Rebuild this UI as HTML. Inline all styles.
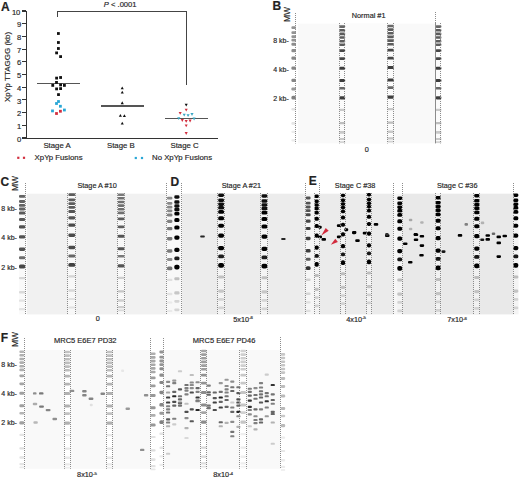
<!DOCTYPE html><html><head><meta charset="utf-8"><style>
html,body{margin:0;padding:0;background:#fff;width:520px;height:479px;overflow:hidden;}
body{position:relative;font-family:"Liberation Sans",sans-serif;}
div{position:absolute;}
.t{position:absolute;white-space:nowrap;line-height:1;-webkit-text-stroke:0.18px #333;}
sup{font-size:0.6em;vertical-align:0;position:relative;top:-0.55em;}
</style></head><body>
<div style="left:25.60px;top:11.00px;width:1.30px;height:127.70px;background:#333;"></div>
<div style="left:25.60px;top:138.00px;width:192.70px;height:1.00px;background:#333;"></div>
<div style="left:22.30px;top:137.40px;width:3.70px;height:1.20px;background:#333;"></div>
<div style="left:22.30px;top:124.70px;width:3.70px;height:1.20px;background:#333;"></div>
<div style="left:22.30px;top:112.00px;width:3.70px;height:1.20px;background:#333;"></div>
<div style="left:22.30px;top:99.30px;width:3.70px;height:1.20px;background:#333;"></div>
<div style="left:22.30px;top:86.60px;width:3.70px;height:1.20px;background:#333;"></div>
<div style="left:22.30px;top:73.90px;width:3.70px;height:1.20px;background:#333;"></div>
<div style="left:22.30px;top:61.20px;width:3.70px;height:1.20px;background:#333;"></div>
<div style="left:22.30px;top:48.50px;width:3.70px;height:1.20px;background:#333;"></div>
<div style="left:22.30px;top:35.80px;width:3.70px;height:1.20px;background:#333;"></div>
<div style="left:22.30px;top:23.10px;width:3.70px;height:1.20px;background:#333;"></div>
<div style="left:22.30px;top:10.40px;width:3.70px;height:1.20px;background:#333;"></div>
<div style="left:57.00px;top:11.00px;width:130.30px;height:1.40px;background:#444;"></div>
<div style="left:57.00px;top:11.00px;width:1.30px;height:5.90px;background:#444;"></div>
<div style="left:186.00px;top:11.00px;width:1.30px;height:73.60px;background:#444;"></div>
<div style="left:37.00px;top:83.10px;width:43.00px;height:1.40px;background:#555;"></div>
<div style="left:100.90px;top:105.30px;width:42.90px;height:1.40px;background:#555;"></div>
<div style="left:164.80px;top:117.70px;width:43.00px;height:1.40px;background:#555;"></div>
<svg style="position:absolute;left:0;top:0" width="260" height="170" viewBox="0 0 260 170"><rect x="57.00" y="32.10" width="2.8" height="2.8" fill="#111"/><rect x="57.00" y="41.10" width="2.8" height="2.8" fill="#111"/><rect x="57.00" y="47.10" width="2.8" height="2.8" fill="#111"/><rect x="55.20" y="51.50" width="2.8" height="2.8" fill="#111"/><rect x="59.20" y="55.20" width="2.8" height="2.8" fill="#111"/><rect x="55.20" y="76.70" width="2.8" height="2.8" fill="#111"/><rect x="59.20" y="76.10" width="2.8" height="2.8" fill="#111"/><rect x="55.10" y="81.00" width="2.8" height="2.8" fill="#111"/><rect x="51.35" y="84.00" width="2.8" height="2.8" fill="#111"/><rect x="59.20" y="83.50" width="2.8" height="2.8" fill="#111"/><rect x="63.00" y="84.00" width="2.8" height="2.8" fill="#111"/><rect x="55.20" y="87.50" width="2.8" height="2.8" fill="#111"/><rect x="59.20" y="87.20" width="2.8" height="2.8" fill="#111"/><rect x="57.10" y="93.20" width="2.8" height="2.8" fill="#111"/><rect x="57.10" y="100.10" width="2.8" height="2.8" fill="#2aa7d6"/><rect x="55.10" y="102.10" width="2.8" height="2.8" fill="#2aa7d6"/><rect x="59.00" y="104.85" width="2.8" height="2.8" fill="#2aa7d6"/><rect x="51.10" y="109.50" width="2.8" height="2.8" fill="#2aa7d6"/><rect x="63.00" y="108.60" width="2.8" height="2.8" fill="#2aa7d6"/><rect x="55.10" y="112.10" width="2.8" height="2.8" fill="#d22f3f"/><rect x="59.00" y="109.85" width="2.8" height="2.8" fill="#d22f3f"/><polygon points="120.70,89.30 123.80,89.30 122.25,86.51" fill="#111"/><polygon points="120.70,93.49 123.80,93.49 122.25,90.70" fill="#111"/><polygon points="120.70,104.14 123.80,104.14 122.25,101.36" fill="#111"/><polygon points="118.85,116.80 121.95,116.80 120.40,114.01" fill="#111"/><polygon points="122.85,116.99 125.95,116.99 124.40,114.20" fill="#111"/><polygon points="120.70,124.49 123.80,124.49 122.25,121.70" fill="#111"/><polygon points="184.65,103.70 187.75,103.70 186.20,106.49" fill="#111"/><polygon points="184.65,108.70 187.75,108.70 186.20,111.49" fill="#d22f3f"/><polygon points="178.65,111.91 181.75,111.91 180.20,114.69" fill="#d22f3f"/><polygon points="180.75,119.11 183.85,119.11 182.30,121.89" fill="#d22f3f"/><polygon points="184.65,120.01 187.75,120.01 186.20,122.80" fill="#d22f3f"/><polygon points="188.55,119.61 191.65,119.61 190.10,122.39" fill="#d22f3f"/><polygon points="184.65,124.41 187.75,124.41 186.20,127.19" fill="#d22f3f"/><polygon points="184.65,132.10 187.75,132.10 186.20,134.90" fill="#d22f3f"/><polygon points="182.65,113.81 185.75,113.81 184.20,116.59" fill="#3aa6c4"/><polygon points="186.55,114.31 189.65,114.31 188.10,117.09" fill="#3aa6c4"/><polygon points="190.45,113.11 193.55,113.11 192.00,115.89" fill="#3aa6c4"/><polygon points="177.20,117.20 180.30,117.20 178.75,119.99" fill="#3aa6c4"/><polygon points="192.55,117.61 195.65,117.61 194.10,120.39" fill="#3aa6c4"/><rect x="17.20" y="156.70" width="2.2" height="2.2" fill="#d22f3f"/><rect x="22.90" y="156.70" width="2.2" height="2.2" fill="#d22f3f"/><rect x="134.70" y="156.90" width="2.2" height="2.2" fill="#2aa7d6"/><rect x="140.90" y="156.90" width="2.2" height="2.2" fill="#2aa7d6"/></svg>
<svg style="position:absolute;left:0;top:0" width="520" height="479" viewBox="0 0 520 479"><defs><filter id="bl" x="-20%" y="-20%" width="140%" height="140%"><feGaussianBlur stdDeviation="0.5"/></filter></defs><rect x="298.00" y="23.60" width="143.00" height="119.80" fill="#f9f9f9"/><rect x="345.00" y="23.60" width="42.50" height="119.80" fill="#fbfbfb"/><rect x="339.40" y="23.60" width="5.80" height="119.80" fill="#fbfbfb"/><rect x="387.40" y="23.60" width="6.40" height="119.80" fill="#fbfbfb"/><rect x="435.60" y="23.60" width="5.80" height="119.80" fill="#fbfbfb"/><rect x="26.80" y="193.70" width="139.20" height="120.70" fill="#f1f1f1"/><rect x="19.00" y="193.70" width="6.50" height="120.70" fill="#fafafa"/><rect x="67.90" y="193.70" width="7.80" height="120.70" fill="#f8f8f8"/><rect x="117.30" y="193.70" width="7.60" height="120.70" fill="#f8f8f8"/><rect x="166.30" y="193.70" width="15.20" height="120.70" fill="#f8f8f8"/><rect x="182.00" y="193.70" width="121.50" height="120.70" fill="#ececec"/><rect x="217.70" y="193.70" width="6.80" height="120.70" fill="#f4f4f4"/><rect x="261.00" y="193.70" width="6.80" height="120.70" fill="#f4f4f4"/><rect x="303.50" y="193.70" width="2.50" height="120.70" fill="#ececec"/><rect x="305.50" y="193.70" width="8.50" height="120.70" fill="#f6f6f6"/><rect x="319.50" y="193.70" width="73.50" height="120.70" fill="#ebebeb"/><rect x="314.20" y="193.70" width="5.00" height="120.70" fill="#f3f3f3"/><rect x="340.60" y="193.70" width="4.80" height="120.70" fill="#f3f3f3"/><rect x="366.60" y="193.70" width="4.80" height="120.70" fill="#f3f3f3"/><rect x="393.00" y="193.70" width="4.00" height="120.70" fill="#f6f6f6"/><rect x="397.00" y="193.70" width="5.50" height="120.70" fill="#f3f3f3"/><rect x="402.50" y="193.70" width="111.00" height="120.70" fill="#e9e9e9"/><rect x="435.10" y="193.70" width="6.20" height="120.70" fill="#f1f1f1"/><rect x="473.70" y="193.70" width="6.20" height="120.70" fill="#f1f1f1"/><rect x="513.00" y="193.70" width="5.50" height="120.70" fill="#f4f4f4"/><rect x="25.00" y="350.00" width="125.00" height="118.80" fill="#f9f9f9"/><rect x="64.20" y="350.00" width="5.80" height="118.80" fill="#ffffff"/><rect x="106.60" y="350.00" width="6.00" height="118.80" fill="#ffffff"/><rect x="150.00" y="350.00" width="6.00" height="118.80" fill="#ffffff"/><rect x="164.00" y="350.00" width="117.00" height="118.80" fill="#f9f9f9"/><rect x="200.60" y="350.00" width="6.40" height="118.80" fill="#ffffff"/><rect x="239.80" y="350.00" width="6.70" height="118.80" fill="#ffffff"/><rect x="280.60" y="350.00" width="5.40" height="118.80" fill="#ffffff"/><g filter="url(#bl)"><rect x="291.40" y="26.20" width="4.60" height="2.80" rx="1.12" fill="rgb(147,147,147)"/><rect x="291.40" y="31.30" width="4.60" height="2.80" rx="1.12" fill="rgb(147,147,147)"/><rect x="291.40" y="35.20" width="4.60" height="2.80" rx="1.12" fill="rgb(147,147,147)"/><rect x="291.40" y="38.80" width="4.60" height="2.80" rx="1.12" fill="rgb(147,147,147)"/><rect x="291.40" y="42.80" width="4.60" height="3.00" rx="1.20" fill="rgb(140,140,140)"/><rect x="291.40" y="49.10" width="4.60" height="3.20" rx="1.28" fill="rgb(140,140,140)"/><rect x="291.40" y="56.50" width="4.60" height="3.20" rx="1.28" fill="rgb(134,134,134)"/><rect x="291.40" y="66.40" width="4.60" height="3.40" rx="1.36" fill="rgb(134,134,134)"/><rect x="291.40" y="78.70" width="4.60" height="3.40" rx="1.36" fill="rgb(134,134,134)"/><rect x="291.40" y="87.40" width="4.60" height="3.00" rx="1.20" fill="rgb(153,153,153)"/><rect x="291.40" y="95.80" width="4.60" height="3.80" rx="1.52" fill="rgb(128,128,128)"/><rect x="291.40" y="108.10" width="4.60" height="2.40" rx="0.96" fill="rgb(227,227,227)"/><rect x="291.40" y="122.10" width="4.60" height="2.60" rx="1.04" fill="rgb(230,230,230)"/><rect x="291.40" y="130.80" width="4.60" height="2.20" rx="0.88" fill="rgb(236,236,236)"/><rect x="291.40" y="139.30" width="4.60" height="2.20" rx="0.88" fill="rgb(236,236,236)"/><rect x="339.40" y="25.30" width="5.80" height="2.60" rx="1.04" fill="rgb(103,103,103)"/><rect x="339.40" y="28.90" width="5.80" height="2.60" rx="1.04" fill="rgb(92,92,92)"/><rect x="339.40" y="32.60" width="5.80" height="2.60" rx="1.04" fill="rgb(92,92,92)"/><rect x="339.40" y="36.20" width="5.80" height="2.60" rx="1.04" fill="rgb(92,92,92)"/><rect x="339.40" y="39.90" width="5.80" height="2.60" rx="1.04" fill="rgb(92,92,92)"/><rect x="339.40" y="43.50" width="5.80" height="2.60" rx="1.04" fill="rgb(92,92,92)"/><rect x="339.40" y="49.30" width="5.80" height="2.80" rx="1.12" fill="rgb(71,71,71)"/><rect x="339.40" y="57.30" width="5.80" height="2.80" rx="1.12" fill="rgb(71,71,71)"/><rect x="339.40" y="66.70" width="5.80" height="3.00" rx="1.20" fill="rgb(60,60,60)"/><rect x="339.40" y="79.10" width="5.80" height="3.00" rx="1.20" fill="rgb(60,60,60)"/><rect x="339.40" y="86.90" width="5.80" height="2.60" rx="1.04" fill="rgb(103,103,103)"/><rect x="339.40" y="96.20" width="5.80" height="3.20" rx="1.28" fill="rgb(60,60,60)"/><rect x="339.40" y="108.70" width="5.80" height="2.20" rx="0.88" fill="rgb(201,201,201)"/><rect x="339.40" y="122.10" width="5.80" height="2.20" rx="0.88" fill="rgb(190,190,190)"/><rect x="339.40" y="131.10" width="5.80" height="2.60" rx="1.04" fill="rgb(201,201,201)"/><rect x="339.40" y="137.90" width="5.80" height="2.20" rx="0.88" fill="rgb(201,201,201)"/><rect x="339.40" y="141.30" width="5.80" height="1.80" rx="0.72" fill="rgb(212,212,212)"/><rect x="387.40" y="24.70" width="6.40" height="2.60" rx="1.04" fill="rgb(103,103,103)"/><rect x="387.40" y="28.30" width="6.40" height="2.60" rx="1.04" fill="rgb(92,92,92)"/><rect x="387.40" y="32.00" width="6.40" height="2.60" rx="1.04" fill="rgb(92,92,92)"/><rect x="387.40" y="35.60" width="6.40" height="2.60" rx="1.04" fill="rgb(92,92,92)"/><rect x="387.40" y="39.30" width="6.40" height="2.60" rx="1.04" fill="rgb(92,92,92)"/><rect x="387.40" y="42.90" width="6.40" height="2.60" rx="1.04" fill="rgb(92,92,92)"/><rect x="387.40" y="48.70" width="6.40" height="2.80" rx="1.12" fill="rgb(71,71,71)"/><rect x="387.40" y="56.70" width="6.40" height="2.80" rx="1.12" fill="rgb(71,71,71)"/><rect x="387.40" y="66.10" width="6.40" height="3.00" rx="1.20" fill="rgb(60,60,60)"/><rect x="387.40" y="78.50" width="6.40" height="3.00" rx="1.20" fill="rgb(60,60,60)"/><rect x="387.40" y="86.30" width="6.40" height="2.60" rx="1.04" fill="rgb(103,103,103)"/><rect x="387.40" y="95.60" width="6.40" height="3.20" rx="1.28" fill="rgb(60,60,60)"/><rect x="387.40" y="108.10" width="6.40" height="2.20" rx="0.88" fill="rgb(201,201,201)"/><rect x="387.40" y="121.50" width="6.40" height="2.20" rx="0.88" fill="rgb(190,190,190)"/><rect x="387.40" y="130.50" width="6.40" height="2.60" rx="1.04" fill="rgb(201,201,201)"/><rect x="387.40" y="137.30" width="6.40" height="2.20" rx="0.88" fill="rgb(201,201,201)"/><rect x="387.40" y="140.70" width="6.40" height="1.80" rx="0.72" fill="rgb(212,212,212)"/><rect x="435.60" y="25.30" width="5.80" height="2.60" rx="1.04" fill="rgb(103,103,103)"/><rect x="435.60" y="28.90" width="5.80" height="2.60" rx="1.04" fill="rgb(92,92,92)"/><rect x="435.60" y="32.60" width="5.80" height="2.60" rx="1.04" fill="rgb(92,92,92)"/><rect x="435.60" y="36.20" width="5.80" height="2.60" rx="1.04" fill="rgb(92,92,92)"/><rect x="435.60" y="39.90" width="5.80" height="2.60" rx="1.04" fill="rgb(92,92,92)"/><rect x="435.60" y="43.50" width="5.80" height="2.60" rx="1.04" fill="rgb(92,92,92)"/><rect x="435.60" y="49.30" width="5.80" height="2.80" rx="1.12" fill="rgb(71,71,71)"/><rect x="435.60" y="57.30" width="5.80" height="2.80" rx="1.12" fill="rgb(71,71,71)"/><rect x="435.60" y="66.70" width="5.80" height="3.00" rx="1.20" fill="rgb(60,60,60)"/><rect x="435.60" y="79.10" width="5.80" height="3.00" rx="1.20" fill="rgb(60,60,60)"/><rect x="435.60" y="86.90" width="5.80" height="2.60" rx="1.04" fill="rgb(103,103,103)"/><rect x="435.60" y="96.20" width="5.80" height="3.20" rx="1.28" fill="rgb(60,60,60)"/><rect x="435.60" y="108.70" width="5.80" height="2.20" rx="0.88" fill="rgb(201,201,201)"/><rect x="435.60" y="122.10" width="5.80" height="2.20" rx="0.88" fill="rgb(190,190,190)"/><rect x="435.60" y="131.10" width="5.80" height="2.60" rx="1.04" fill="rgb(201,201,201)"/><rect x="435.60" y="137.90" width="5.80" height="2.20" rx="0.88" fill="rgb(201,201,201)"/><rect x="435.60" y="141.30" width="5.80" height="1.80" rx="0.72" fill="rgb(212,212,212)"/><rect x="19.00" y="195.00" width="6.20" height="2.80" rx="1.12" fill="rgb(99,99,99)"/><rect x="19.00" y="200.10" width="6.20" height="2.80" rx="1.12" fill="rgb(99,99,99)"/><rect x="19.00" y="204.00" width="6.20" height="2.80" rx="1.12" fill="rgb(99,99,99)"/><rect x="19.00" y="207.60" width="6.20" height="2.80" rx="1.12" fill="rgb(99,99,99)"/><rect x="19.00" y="211.60" width="6.20" height="3.00" rx="1.20" fill="rgb(90,90,90)"/><rect x="19.00" y="217.90" width="6.20" height="3.20" rx="1.28" fill="rgb(90,90,90)"/><rect x="19.00" y="225.30" width="6.20" height="3.20" rx="1.28" fill="rgb(81,81,81)"/><rect x="19.00" y="235.20" width="6.20" height="3.40" rx="1.36" fill="rgb(81,81,81)"/><rect x="19.00" y="247.50" width="6.20" height="3.40" rx="1.36" fill="rgb(81,81,81)"/><rect x="19.00" y="256.20" width="6.20" height="3.00" rx="1.20" fill="rgb(108,108,108)"/><rect x="19.00" y="264.60" width="6.20" height="3.80" rx="1.52" fill="rgb(71,71,71)"/><rect x="19.00" y="276.90" width="6.20" height="2.40" rx="0.96" fill="rgb(215,215,215)"/><rect x="19.00" y="290.90" width="6.20" height="2.60" rx="1.04" fill="rgb(218,218,218)"/><rect x="19.00" y="299.60" width="6.20" height="2.20" rx="0.88" fill="rgb(227,227,227)"/><rect x="19.00" y="308.10" width="6.20" height="2.20" rx="0.88" fill="rgb(227,227,227)"/><rect x="68.40" y="193.30" width="6.80" height="2.80" rx="1.12" fill="rgb(92,92,92)"/><rect x="68.40" y="198.40" width="6.80" height="2.80" rx="1.12" fill="rgb(92,92,92)"/><rect x="68.40" y="202.30" width="6.80" height="2.80" rx="1.12" fill="rgb(92,92,92)"/><rect x="68.40" y="205.90" width="6.80" height="2.80" rx="1.12" fill="rgb(92,92,92)"/><rect x="68.40" y="209.90" width="6.80" height="3.00" rx="1.20" fill="rgb(83,83,83)"/><rect x="68.40" y="216.20" width="6.80" height="3.20" rx="1.28" fill="rgb(83,83,83)"/><rect x="68.40" y="223.60" width="6.80" height="3.20" rx="1.28" fill="rgb(73,73,73)"/><rect x="68.40" y="233.50" width="6.80" height="3.40" rx="1.36" fill="rgb(73,73,73)"/><rect x="68.40" y="245.80" width="6.80" height="3.40" rx="1.36" fill="rgb(73,73,73)"/><rect x="68.40" y="254.50" width="6.80" height="3.00" rx="1.20" fill="rgb(102,102,102)"/><rect x="68.40" y="262.90" width="6.80" height="3.80" rx="1.52" fill="rgb(64,64,64)"/><rect x="68.40" y="275.20" width="6.80" height="2.40" rx="0.96" fill="rgb(213,213,213)"/><rect x="68.40" y="289.20" width="6.80" height="2.60" rx="1.04" fill="rgb(217,217,217)"/><rect x="68.40" y="297.90" width="6.80" height="2.20" rx="0.88" fill="rgb(226,226,226)"/><rect x="68.40" y="306.40" width="6.80" height="2.20" rx="0.88" fill="rgb(226,226,226)"/><rect x="117.80" y="193.40" width="6.60" height="2.60" rx="1.04" fill="rgb(121,121,121)"/><rect x="117.80" y="197.00" width="6.60" height="2.60" rx="1.04" fill="rgb(112,112,112)"/><rect x="117.80" y="200.70" width="6.60" height="2.60" rx="1.04" fill="rgb(112,112,112)"/><rect x="117.80" y="204.30" width="6.60" height="2.60" rx="1.04" fill="rgb(112,112,112)"/><rect x="117.80" y="208.00" width="6.60" height="2.60" rx="1.04" fill="rgb(112,112,112)"/><rect x="117.80" y="211.60" width="6.60" height="2.60" rx="1.04" fill="rgb(112,112,112)"/><rect x="117.80" y="217.40" width="6.60" height="2.80" rx="1.12" fill="rgb(92,92,92)"/><rect x="117.80" y="225.40" width="6.60" height="2.80" rx="1.12" fill="rgb(92,92,92)"/><rect x="117.80" y="234.80" width="6.60" height="3.00" rx="1.20" fill="rgb(83,83,83)"/><rect x="117.80" y="247.20" width="6.60" height="3.00" rx="1.20" fill="rgb(83,83,83)"/><rect x="117.80" y="255.00" width="6.60" height="2.60" rx="1.04" fill="rgb(121,121,121)"/><rect x="117.80" y="264.30" width="6.60" height="3.20" rx="1.28" fill="rgb(83,83,83)"/><rect x="117.80" y="276.80" width="6.60" height="2.20" rx="0.88" fill="rgb(207,207,207)"/><rect x="117.80" y="290.20" width="6.60" height="2.20" rx="0.88" fill="rgb(198,198,198)"/><rect x="117.80" y="299.20" width="6.60" height="2.60" rx="1.04" fill="rgb(207,207,207)"/><rect x="117.80" y="306.00" width="6.60" height="2.20" rx="0.88" fill="rgb(207,207,207)"/><rect x="117.80" y="309.40" width="6.60" height="1.80" rx="0.72" fill="rgb(217,217,217)"/><rect x="167.00" y="196.80" width="5.40" height="2.80" rx="1.12" fill="rgb(136,136,136)"/><rect x="167.00" y="201.90" width="5.40" height="2.80" rx="1.12" fill="rgb(136,136,136)"/><rect x="167.00" y="205.80" width="5.40" height="2.80" rx="1.12" fill="rgb(136,136,136)"/><rect x="167.00" y="209.40" width="5.40" height="2.80" rx="1.12" fill="rgb(136,136,136)"/><rect x="167.00" y="213.40" width="5.40" height="3.00" rx="1.20" fill="rgb(129,129,129)"/><rect x="167.00" y="219.70" width="5.40" height="3.20" rx="1.28" fill="rgb(129,129,129)"/><rect x="167.00" y="227.10" width="5.40" height="3.20" rx="1.28" fill="rgb(122,122,122)"/><rect x="167.00" y="237.00" width="5.40" height="3.40" rx="1.36" fill="rgb(122,122,122)"/><rect x="167.00" y="249.30" width="5.40" height="3.40" rx="1.36" fill="rgb(122,122,122)"/><rect x="167.00" y="258.00" width="5.40" height="3.00" rx="1.20" fill="rgb(143,143,143)"/><rect x="167.00" y="266.40" width="5.40" height="3.80" rx="1.52" fill="rgb(115,115,115)"/><rect x="167.00" y="278.70" width="5.40" height="2.40" rx="0.96" fill="rgb(224,224,224)"/><rect x="167.00" y="292.70" width="5.40" height="2.60" rx="1.04" fill="rgb(227,227,227)"/><rect x="167.00" y="301.40" width="5.40" height="2.20" rx="0.88" fill="rgb(234,234,234)"/><rect x="167.00" y="309.90" width="5.40" height="2.20" rx="0.88" fill="rgb(234,234,234)"/><rect x="174.30" y="195.25" width="5.20" height="3.50" rx="1.40" fill="rgb(17,17,17)"/><rect x="174.30" y="200.35" width="5.20" height="3.50" rx="1.40" fill="rgb(17,17,17)"/><rect x="174.30" y="204.25" width="5.20" height="3.50" rx="1.40" fill="rgb(17,17,17)"/><rect x="174.30" y="207.85" width="5.20" height="3.50" rx="1.40" fill="rgb(17,17,17)"/><rect x="174.30" y="211.82" width="5.20" height="3.75" rx="1.50" fill="rgb(3,3,3)"/><rect x="174.30" y="218.10" width="5.20" height="4.00" rx="1.60" fill="rgb(3,3,3)"/><rect x="174.30" y="225.50" width="5.20" height="4.00" rx="1.60" fill="rgb(0,0,0)"/><rect x="174.30" y="235.38" width="5.20" height="4.25" rx="1.70" fill="rgb(0,0,0)"/><rect x="174.30" y="247.68" width="5.20" height="4.25" rx="1.70" fill="rgb(0,0,0)"/><rect x="174.30" y="256.43" width="5.20" height="3.75" rx="1.50" fill="rgb(31,31,31)"/><rect x="174.30" y="264.72" width="5.20" height="4.75" rx="1.90" fill="rgb(0,0,0)"/><rect x="174.30" y="277.20" width="5.20" height="3.00" rx="1.20" fill="rgb(193,193,193)"/><rect x="174.30" y="291.18" width="5.20" height="3.25" rx="1.30" fill="rgb(199,199,199)"/><rect x="174.30" y="299.93" width="5.20" height="2.75" rx="1.10" fill="rgb(213,213,213)"/><rect x="174.30" y="308.43" width="5.20" height="2.75" rx="1.10" fill="rgb(213,213,213)"/><rect x="218.20" y="193.45" width="5.80" height="3.50" rx="1.40" fill="rgb(17,17,17)"/><rect x="218.20" y="198.55" width="5.80" height="3.50" rx="1.40" fill="rgb(17,17,17)"/><rect x="218.20" y="202.45" width="5.80" height="3.50" rx="1.40" fill="rgb(17,17,17)"/><rect x="218.20" y="206.05" width="5.80" height="3.50" rx="1.40" fill="rgb(17,17,17)"/><rect x="218.20" y="210.02" width="5.80" height="3.75" rx="1.50" fill="rgb(3,3,3)"/><rect x="218.20" y="216.30" width="5.80" height="4.00" rx="1.60" fill="rgb(3,3,3)"/><rect x="218.20" y="223.70" width="5.80" height="4.00" rx="1.60" fill="rgb(0,0,0)"/><rect x="218.20" y="233.57" width="5.80" height="4.25" rx="1.70" fill="rgb(0,0,0)"/><rect x="218.20" y="245.88" width="5.80" height="4.25" rx="1.70" fill="rgb(0,0,0)"/><rect x="218.20" y="254.62" width="5.80" height="3.75" rx="1.50" fill="rgb(31,31,31)"/><rect x="218.20" y="262.92" width="5.80" height="4.75" rx="1.90" fill="rgb(0,0,0)"/><rect x="218.20" y="275.40" width="5.80" height="3.00" rx="1.20" fill="rgb(193,193,193)"/><rect x="218.20" y="289.38" width="5.80" height="3.25" rx="1.30" fill="rgb(199,199,199)"/><rect x="218.20" y="298.12" width="5.80" height="2.75" rx="1.10" fill="rgb(213,213,213)"/><rect x="218.20" y="306.62" width="5.80" height="2.75" rx="1.10" fill="rgb(213,213,213)"/><rect x="261.50" y="194.25" width="5.80" height="3.50" rx="1.40" fill="rgb(17,17,17)"/><rect x="261.50" y="199.35" width="5.80" height="3.50" rx="1.40" fill="rgb(17,17,17)"/><rect x="261.50" y="203.25" width="5.80" height="3.50" rx="1.40" fill="rgb(17,17,17)"/><rect x="261.50" y="206.85" width="5.80" height="3.50" rx="1.40" fill="rgb(17,17,17)"/><rect x="261.50" y="210.82" width="5.80" height="3.75" rx="1.50" fill="rgb(3,3,3)"/><rect x="261.50" y="217.10" width="5.80" height="4.00" rx="1.60" fill="rgb(3,3,3)"/><rect x="261.50" y="224.50" width="5.80" height="4.00" rx="1.60" fill="rgb(0,0,0)"/><rect x="261.50" y="234.38" width="5.80" height="4.25" rx="1.70" fill="rgb(0,0,0)"/><rect x="261.50" y="246.68" width="5.80" height="4.25" rx="1.70" fill="rgb(0,0,0)"/><rect x="261.50" y="255.43" width="5.80" height="3.75" rx="1.50" fill="rgb(31,31,31)"/><rect x="261.50" y="263.72" width="5.80" height="4.75" rx="1.90" fill="rgb(0,0,0)"/><rect x="261.50" y="276.20" width="5.80" height="3.00" rx="1.20" fill="rgb(193,193,193)"/><rect x="261.50" y="290.18" width="5.80" height="3.25" rx="1.30" fill="rgb(199,199,199)"/><rect x="261.50" y="298.93" width="5.80" height="2.75" rx="1.10" fill="rgb(213,213,213)"/><rect x="261.50" y="307.43" width="5.80" height="2.75" rx="1.10" fill="rgb(213,213,213)"/><rect x="200.20" y="235.50" width="4.60" height="2.00" rx="0.80" fill="rgb(38,38,38)"/><rect x="281.20" y="238.00" width="4.40" height="2.00" rx="0.80" fill="rgb(38,38,38)"/><rect x="305.80" y="196.60" width="4.80" height="2.80" rx="1.12" fill="rgb(82,82,82)"/><rect x="305.80" y="201.70" width="4.80" height="2.80" rx="1.12" fill="rgb(82,82,82)"/><rect x="305.80" y="205.60" width="4.80" height="2.80" rx="1.12" fill="rgb(82,82,82)"/><rect x="305.80" y="209.20" width="4.80" height="2.80" rx="1.12" fill="rgb(82,82,82)"/><rect x="305.80" y="213.20" width="4.80" height="3.00" rx="1.20" fill="rgb(71,71,71)"/><rect x="305.80" y="219.50" width="4.80" height="3.20" rx="1.28" fill="rgb(71,71,71)"/><rect x="305.80" y="226.90" width="4.80" height="3.20" rx="1.28" fill="rgb(61,61,61)"/><rect x="305.80" y="236.80" width="4.80" height="3.40" rx="1.36" fill="rgb(61,61,61)"/><rect x="305.80" y="249.10" width="4.80" height="3.40" rx="1.36" fill="rgb(61,61,61)"/><rect x="305.80" y="257.80" width="4.80" height="3.00" rx="1.20" fill="rgb(92,92,92)"/><rect x="305.80" y="266.20" width="4.80" height="3.80" rx="1.52" fill="rgb(51,51,51)"/><rect x="305.80" y="278.50" width="4.80" height="2.40" rx="0.96" fill="rgb(210,210,210)"/><rect x="305.80" y="292.50" width="4.80" height="2.60" rx="1.04" fill="rgb(214,214,214)"/><rect x="305.80" y="301.20" width="4.80" height="2.20" rx="0.88" fill="rgb(224,224,224)"/><rect x="305.80" y="309.70" width="4.80" height="2.20" rx="0.88" fill="rgb(224,224,224)"/><rect x="314.60" y="194.60" width="4.20" height="3.50" rx="1.40" fill="rgb(6,6,6)"/><rect x="314.60" y="199.55" width="4.20" height="3.50" rx="1.40" fill="rgb(6,6,6)"/><rect x="314.60" y="203.33" width="4.20" height="3.50" rx="1.40" fill="rgb(6,6,6)"/><rect x="314.60" y="206.83" width="4.20" height="3.50" rx="1.40" fill="rgb(6,6,6)"/><rect x="314.60" y="210.68" width="4.20" height="3.75" rx="1.50" fill="rgb(0,0,0)"/><rect x="314.60" y="216.76" width="4.20" height="4.00" rx="1.60" fill="rgb(0,0,0)"/><rect x="314.60" y="223.94" width="4.20" height="4.00" rx="1.60" fill="rgb(0,0,0)"/><rect x="314.60" y="233.51" width="4.20" height="4.25" rx="1.68" fill="rgb(0,0,0)"/><rect x="314.60" y="245.45" width="4.20" height="4.25" rx="1.68" fill="rgb(0,0,0)"/><rect x="314.60" y="253.94" width="4.20" height="3.75" rx="1.50" fill="rgb(20,20,20)"/><rect x="314.60" y="261.98" width="4.20" height="4.75" rx="1.68" fill="rgb(0,0,0)"/><rect x="314.60" y="274.10" width="4.20" height="3.00" rx="1.20" fill="rgb(190,190,190)"/><rect x="314.60" y="287.66" width="4.20" height="3.25" rx="1.30" fill="rgb(196,196,196)"/><rect x="314.60" y="296.15" width="4.20" height="2.75" rx="1.10" fill="rgb(211,211,211)"/><rect x="314.60" y="304.40" width="4.20" height="2.75" rx="1.10" fill="rgb(211,211,211)"/><rect x="341.00" y="193.69" width="4.00" height="3.50" rx="1.40" fill="rgb(6,6,6)"/><rect x="341.00" y="198.59" width="4.00" height="3.50" rx="1.40" fill="rgb(6,6,6)"/><rect x="341.00" y="202.33" width="4.00" height="3.50" rx="1.40" fill="rgb(6,6,6)"/><rect x="341.00" y="205.79" width="4.00" height="3.50" rx="1.40" fill="rgb(6,6,6)"/><rect x="341.00" y="209.60" width="4.00" height="3.75" rx="1.50" fill="rgb(0,0,0)"/><rect x="341.00" y="215.62" width="4.00" height="4.00" rx="1.60" fill="rgb(0,0,0)"/><rect x="341.00" y="222.72" width="4.00" height="4.00" rx="1.60" fill="rgb(0,0,0)"/><rect x="341.00" y="232.19" width="4.00" height="4.25" rx="1.60" fill="rgb(0,0,0)"/><rect x="341.00" y="244.00" width="4.00" height="4.25" rx="1.60" fill="rgb(0,0,0)"/><rect x="341.00" y="252.41" width="4.00" height="3.75" rx="1.50" fill="rgb(20,20,20)"/><rect x="341.00" y="260.36" width="4.00" height="4.75" rx="1.60" fill="rgb(0,0,0)"/><rect x="341.00" y="272.37" width="4.00" height="3.00" rx="1.20" fill="rgb(190,190,190)"/><rect x="341.00" y="285.78" width="4.00" height="3.25" rx="1.30" fill="rgb(196,196,196)"/><rect x="341.00" y="294.19" width="4.00" height="2.75" rx="1.10" fill="rgb(211,211,211)"/><rect x="341.00" y="302.35" width="4.00" height="2.75" rx="1.10" fill="rgb(211,211,211)"/><rect x="367.00" y="192.89" width="4.00" height="3.50" rx="1.40" fill="rgb(6,6,6)"/><rect x="367.00" y="197.79" width="4.00" height="3.50" rx="1.40" fill="rgb(6,6,6)"/><rect x="367.00" y="201.53" width="4.00" height="3.50" rx="1.40" fill="rgb(6,6,6)"/><rect x="367.00" y="204.99" width="4.00" height="3.50" rx="1.40" fill="rgb(6,6,6)"/><rect x="367.00" y="208.80" width="4.00" height="3.75" rx="1.50" fill="rgb(0,0,0)"/><rect x="367.00" y="214.82" width="4.00" height="4.00" rx="1.60" fill="rgb(0,0,0)"/><rect x="367.00" y="221.92" width="4.00" height="4.00" rx="1.60" fill="rgb(0,0,0)"/><rect x="367.00" y="231.39" width="4.00" height="4.25" rx="1.60" fill="rgb(0,0,0)"/><rect x="367.00" y="243.20" width="4.00" height="4.25" rx="1.60" fill="rgb(0,0,0)"/><rect x="367.00" y="251.61" width="4.00" height="3.75" rx="1.50" fill="rgb(20,20,20)"/><rect x="367.00" y="259.56" width="4.00" height="4.75" rx="1.60" fill="rgb(0,0,0)"/><rect x="367.00" y="271.57" width="4.00" height="3.00" rx="1.20" fill="rgb(190,190,190)"/><rect x="367.00" y="284.98" width="4.00" height="3.25" rx="1.30" fill="rgb(196,196,196)"/><rect x="367.00" y="293.39" width="4.00" height="2.75" rx="1.10" fill="rgb(211,211,211)"/><rect x="367.00" y="301.55" width="4.00" height="2.75" rx="1.10" fill="rgb(211,211,211)"/><rect x="318.25" y="225.85" width="3.50" height="2.80" rx="1.12" fill="rgb(0,0,0)"/><rect x="318.00" y="235.50" width="4.00" height="2.80" rx="1.12" fill="rgb(0,0,0)"/><rect x="321.50" y="238.00" width="4.50" height="2.80" rx="1.12" fill="rgb(0,0,0)"/><rect x="336.85" y="224.20" width="4.50" height="2.80" rx="1.12" fill="rgb(0,0,0)"/><rect x="336.85" y="235.50" width="4.50" height="2.80" rx="1.12" fill="rgb(0,0,0)"/><rect x="344.25" y="228.35" width="4.00" height="2.80" rx="1.12" fill="rgb(0,0,0)"/><rect x="352.00" y="231.35" width="4.00" height="2.80" rx="1.12" fill="rgb(0,0,0)"/><rect x="355.25" y="239.20" width="4.50" height="2.80" rx="1.12" fill="rgb(0,0,0)"/><rect x="362.75" y="231.70" width="4.00" height="2.80" rx="1.12" fill="rgb(0,0,0)"/><rect x="373.75" y="223.00" width="4.50" height="2.80" rx="1.12" fill="rgb(0,0,0)"/><rect x="385.00" y="234.20" width="4.50" height="2.80" rx="1.12" fill="rgb(0,0,0)"/><rect x="352.40" y="231.10" width="4.00" height="2.80" rx="1.12" fill="rgb(0,0,0)"/><rect x="397.30" y="196.45" width="4.90" height="3.50" rx="1.40" fill="rgb(6,6,6)"/><rect x="397.30" y="201.55" width="4.90" height="3.50" rx="1.40" fill="rgb(6,6,6)"/><rect x="397.30" y="205.45" width="4.90" height="3.50" rx="1.40" fill="rgb(6,6,6)"/><rect x="397.30" y="209.05" width="4.90" height="3.50" rx="1.40" fill="rgb(6,6,6)"/><rect x="397.30" y="213.02" width="4.90" height="3.75" rx="1.50" fill="rgb(0,0,0)"/><rect x="397.30" y="219.30" width="4.90" height="4.00" rx="1.60" fill="rgb(0,0,0)"/><rect x="397.30" y="226.70" width="4.90" height="4.00" rx="1.60" fill="rgb(0,0,0)"/><rect x="397.30" y="236.57" width="4.90" height="4.25" rx="1.70" fill="rgb(0,0,0)"/><rect x="397.30" y="248.88" width="4.90" height="4.25" rx="1.70" fill="rgb(0,0,0)"/><rect x="397.30" y="257.62" width="4.90" height="3.75" rx="1.50" fill="rgb(20,20,20)"/><rect x="397.30" y="265.92" width="4.90" height="4.75" rx="1.90" fill="rgb(0,0,0)"/><rect x="397.30" y="278.40" width="4.90" height="3.00" rx="1.20" fill="rgb(190,190,190)"/><rect x="397.30" y="292.38" width="4.90" height="3.25" rx="1.30" fill="rgb(196,196,196)"/><rect x="397.30" y="301.12" width="4.90" height="2.75" rx="1.10" fill="rgb(211,211,211)"/><rect x="397.30" y="309.62" width="4.90" height="2.75" rx="1.10" fill="rgb(211,211,211)"/><rect x="435.60" y="195.95" width="5.20" height="3.50" rx="1.40" fill="rgb(6,6,6)"/><rect x="435.60" y="201.05" width="5.20" height="3.50" rx="1.40" fill="rgb(6,6,6)"/><rect x="435.60" y="204.95" width="5.20" height="3.50" rx="1.40" fill="rgb(6,6,6)"/><rect x="435.60" y="208.55" width="5.20" height="3.50" rx="1.40" fill="rgb(6,6,6)"/><rect x="435.60" y="212.52" width="5.20" height="3.75" rx="1.50" fill="rgb(0,0,0)"/><rect x="435.60" y="218.80" width="5.20" height="4.00" rx="1.60" fill="rgb(0,0,0)"/><rect x="435.60" y="226.20" width="5.20" height="4.00" rx="1.60" fill="rgb(0,0,0)"/><rect x="435.60" y="236.07" width="5.20" height="4.25" rx="1.70" fill="rgb(0,0,0)"/><rect x="435.60" y="248.38" width="5.20" height="4.25" rx="1.70" fill="rgb(0,0,0)"/><rect x="435.60" y="257.12" width="5.20" height="3.75" rx="1.50" fill="rgb(20,20,20)"/><rect x="435.60" y="265.42" width="5.20" height="4.75" rx="1.90" fill="rgb(0,0,0)"/><rect x="435.60" y="277.90" width="5.20" height="3.00" rx="1.20" fill="rgb(190,190,190)"/><rect x="435.60" y="291.88" width="5.20" height="3.25" rx="1.30" fill="rgb(196,196,196)"/><rect x="435.60" y="300.62" width="5.20" height="2.75" rx="1.10" fill="rgb(211,211,211)"/><rect x="435.60" y="309.12" width="5.20" height="2.75" rx="1.10" fill="rgb(211,211,211)"/><rect x="474.20" y="193.95" width="5.20" height="3.50" rx="1.40" fill="rgb(6,6,6)"/><rect x="474.20" y="199.05" width="5.20" height="3.50" rx="1.40" fill="rgb(6,6,6)"/><rect x="474.20" y="202.95" width="5.20" height="3.50" rx="1.40" fill="rgb(6,6,6)"/><rect x="474.20" y="206.55" width="5.20" height="3.50" rx="1.40" fill="rgb(6,6,6)"/><rect x="474.20" y="210.52" width="5.20" height="3.75" rx="1.50" fill="rgb(0,0,0)"/><rect x="474.20" y="216.80" width="5.20" height="4.00" rx="1.60" fill="rgb(0,0,0)"/><rect x="474.20" y="224.20" width="5.20" height="4.00" rx="1.60" fill="rgb(0,0,0)"/><rect x="474.20" y="234.07" width="5.20" height="4.25" rx="1.70" fill="rgb(0,0,0)"/><rect x="474.20" y="246.38" width="5.20" height="4.25" rx="1.70" fill="rgb(0,0,0)"/><rect x="474.20" y="255.12" width="5.20" height="3.75" rx="1.50" fill="rgb(20,20,20)"/><rect x="474.20" y="263.42" width="5.20" height="4.75" rx="1.90" fill="rgb(0,0,0)"/><rect x="474.20" y="275.90" width="5.20" height="3.00" rx="1.20" fill="rgb(190,190,190)"/><rect x="474.20" y="289.88" width="5.20" height="3.25" rx="1.30" fill="rgb(196,196,196)"/><rect x="474.20" y="298.62" width="5.20" height="2.75" rx="1.10" fill="rgb(211,211,211)"/><rect x="474.20" y="307.12" width="5.20" height="2.75" rx="1.10" fill="rgb(211,211,211)"/><rect x="513.30" y="193.45" width="5.00" height="3.50" rx="1.40" fill="rgb(6,6,6)"/><rect x="513.30" y="198.55" width="5.00" height="3.50" rx="1.40" fill="rgb(6,6,6)"/><rect x="513.30" y="202.45" width="5.00" height="3.50" rx="1.40" fill="rgb(6,6,6)"/><rect x="513.30" y="206.05" width="5.00" height="3.50" rx="1.40" fill="rgb(6,6,6)"/><rect x="513.30" y="210.02" width="5.00" height="3.75" rx="1.50" fill="rgb(0,0,0)"/><rect x="513.30" y="216.30" width="5.00" height="4.00" rx="1.60" fill="rgb(0,0,0)"/><rect x="513.30" y="223.70" width="5.00" height="4.00" rx="1.60" fill="rgb(0,0,0)"/><rect x="513.30" y="233.57" width="5.00" height="4.25" rx="1.70" fill="rgb(0,0,0)"/><rect x="513.30" y="245.88" width="5.00" height="4.25" rx="1.70" fill="rgb(0,0,0)"/><rect x="513.30" y="254.62" width="5.00" height="3.75" rx="1.50" fill="rgb(20,20,20)"/><rect x="513.30" y="262.92" width="5.00" height="4.75" rx="1.90" fill="rgb(0,0,0)"/><rect x="513.30" y="275.40" width="5.00" height="3.00" rx="1.20" fill="rgb(190,190,190)"/><rect x="513.30" y="289.38" width="5.00" height="3.25" rx="1.30" fill="rgb(196,196,196)"/><rect x="513.30" y="298.12" width="5.00" height="2.75" rx="1.10" fill="rgb(211,211,211)"/><rect x="513.30" y="306.62" width="5.00" height="2.75" rx="1.10" fill="rgb(211,211,211)"/><rect x="403.00" y="242.45" width="4.50" height="2.60" rx="1.04" fill="rgb(0,0,0)"/><rect x="408.00" y="260.95" width="4.50" height="2.60" rx="1.04" fill="rgb(0,0,0)"/><rect x="413.75" y="233.45" width="4.50" height="2.60" rx="1.04" fill="rgb(0,0,0)"/><rect x="413.75" y="238.45" width="4.50" height="2.60" rx="1.04" fill="rgb(0,0,0)"/><rect x="419.65" y="234.95" width="4.50" height="2.60" rx="1.04" fill="rgb(0,0,0)"/><rect x="419.65" y="244.30" width="4.50" height="2.60" rx="1.04" fill="rgb(0,0,0)"/><rect x="419.25" y="253.95" width="4.50" height="2.60" rx="1.04" fill="rgb(0,0,0)"/><rect x="441.50" y="250.30" width="4.00" height="2.60" rx="1.04" fill="rgb(25,25,25)"/><rect x="457.75" y="234.10" width="4.50" height="2.60" rx="1.04" fill="rgb(0,0,0)"/><rect x="480.25" y="238.45" width="4.00" height="2.60" rx="1.04" fill="rgb(25,25,25)"/><rect x="485.50" y="234.20" width="4.50" height="2.60" rx="1.04" fill="rgb(0,0,0)"/><rect x="485.50" y="238.10" width="4.50" height="2.60" rx="1.04" fill="rgb(0,0,0)"/><rect x="491.75" y="232.45" width="3.50" height="2.60" rx="1.04" fill="rgb(102,102,102)"/><rect x="496.50" y="235.60" width="4.50" height="2.60" rx="1.04" fill="rgb(0,0,0)"/><rect x="496.50" y="241.60" width="4.50" height="2.60" rx="1.04" fill="rgb(0,0,0)"/><rect x="496.50" y="255.30" width="4.50" height="2.60" rx="1.04" fill="rgb(0,0,0)"/><rect x="502.50" y="234.70" width="4.50" height="2.60" rx="1.04" fill="rgb(0,0,0)"/><rect x="413.60" y="233.10" width="4.00" height="2.60" rx="1.04" fill="rgb(0,0,0)"/><rect x="408.85" y="218.70" width="3.50" height="2.60" rx="1.04" fill="rgb(166,166,166)"/><rect x="408.85" y="227.70" width="3.50" height="2.60" rx="1.04" fill="rgb(178,178,178)"/><rect x="420.15" y="221.20" width="3.50" height="2.60" rx="1.04" fill="rgb(178,178,178)"/><rect x="464.50" y="223.10" width="3.50" height="2.60" rx="1.04" fill="rgb(128,128,128)"/><rect x="480.75" y="221.60" width="3.50" height="2.60" rx="1.04" fill="rgb(178,178,178)"/><rect x="385.15" y="233.10" width="3.50" height="2.60" rx="1.04" fill="rgb(51,51,51)"/><rect x="19.40" y="350.40" width="4.80" height="2.60" rx="1.04" fill="rgb(180,180,180)"/><rect x="19.40" y="354.00" width="4.80" height="2.60" rx="1.04" fill="rgb(175,175,175)"/><rect x="19.40" y="357.70" width="4.80" height="2.60" rx="1.04" fill="rgb(175,175,175)"/><rect x="19.40" y="361.30" width="4.80" height="2.60" rx="1.04" fill="rgb(175,175,175)"/><rect x="19.40" y="365.00" width="4.80" height="2.60" rx="1.04" fill="rgb(175,175,175)"/><rect x="19.40" y="368.60" width="4.80" height="2.60" rx="1.04" fill="rgb(175,175,175)"/><rect x="19.40" y="374.40" width="4.80" height="2.80" rx="1.12" fill="rgb(164,164,164)"/><rect x="19.40" y="382.40" width="4.80" height="2.80" rx="1.12" fill="rgb(164,164,164)"/><rect x="19.40" y="391.80" width="4.80" height="3.00" rx="1.20" fill="rgb(159,159,159)"/><rect x="19.40" y="404.20" width="4.80" height="3.00" rx="1.20" fill="rgb(159,159,159)"/><rect x="19.40" y="412.00" width="4.80" height="2.60" rx="1.04" fill="rgb(180,180,180)"/><rect x="19.40" y="421.30" width="4.80" height="3.20" rx="1.28" fill="rgb(159,159,159)"/><rect x="19.40" y="433.80" width="4.80" height="2.20" rx="0.88" fill="rgb(228,228,228)"/><rect x="19.40" y="447.20" width="4.80" height="2.20" rx="0.88" fill="rgb(223,223,223)"/><rect x="19.40" y="456.20" width="4.80" height="2.60" rx="1.04" fill="rgb(228,228,228)"/><rect x="19.40" y="463.00" width="4.80" height="2.20" rx="0.88" fill="rgb(228,228,228)"/><rect x="19.40" y="466.40" width="4.80" height="1.80" rx="0.72" fill="rgb(234,234,234)"/><rect x="64.20" y="350.70" width="5.80" height="2.60" rx="1.04" fill="rgb(194,194,194)"/><rect x="64.20" y="354.30" width="5.80" height="2.60" rx="1.04" fill="rgb(190,190,190)"/><rect x="64.20" y="358.00" width="5.80" height="2.60" rx="1.04" fill="rgb(190,190,190)"/><rect x="64.20" y="361.60" width="5.80" height="2.60" rx="1.04" fill="rgb(190,190,190)"/><rect x="64.20" y="365.30" width="5.80" height="2.60" rx="1.04" fill="rgb(190,190,190)"/><rect x="64.20" y="368.90" width="5.80" height="2.60" rx="1.04" fill="rgb(190,190,190)"/><rect x="64.20" y="374.70" width="5.80" height="2.80" rx="1.12" fill="rgb(181,181,181)"/><rect x="64.20" y="382.70" width="5.80" height="2.80" rx="1.12" fill="rgb(181,181,181)"/><rect x="64.20" y="392.10" width="5.80" height="3.00" rx="1.20" fill="rgb(177,177,177)"/><rect x="64.20" y="404.50" width="5.80" height="3.00" rx="1.20" fill="rgb(177,177,177)"/><rect x="64.20" y="412.30" width="5.80" height="2.60" rx="1.04" fill="rgb(194,194,194)"/><rect x="64.20" y="421.60" width="5.80" height="3.20" rx="1.28" fill="rgb(177,177,177)"/><rect x="64.20" y="434.10" width="5.80" height="2.20" rx="0.88" fill="rgb(233,233,233)"/><rect x="64.20" y="447.50" width="5.80" height="2.20" rx="0.88" fill="rgb(229,229,229)"/><rect x="64.20" y="456.50" width="5.80" height="2.60" rx="1.04" fill="rgb(233,233,233)"/><rect x="64.20" y="463.30" width="5.80" height="2.20" rx="0.88" fill="rgb(233,233,233)"/><rect x="64.20" y="466.70" width="5.80" height="1.80" rx="0.72" fill="rgb(238,238,238)"/><rect x="106.60" y="350.70" width="6.00" height="2.60" rx="1.04" fill="rgb(194,194,194)"/><rect x="106.60" y="354.30" width="6.00" height="2.60" rx="1.04" fill="rgb(190,190,190)"/><rect x="106.60" y="358.00" width="6.00" height="2.60" rx="1.04" fill="rgb(190,190,190)"/><rect x="106.60" y="361.60" width="6.00" height="2.60" rx="1.04" fill="rgb(190,190,190)"/><rect x="106.60" y="365.30" width="6.00" height="2.60" rx="1.04" fill="rgb(190,190,190)"/><rect x="106.60" y="368.90" width="6.00" height="2.60" rx="1.04" fill="rgb(190,190,190)"/><rect x="106.60" y="374.70" width="6.00" height="2.80" rx="1.12" fill="rgb(181,181,181)"/><rect x="106.60" y="382.70" width="6.00" height="2.80" rx="1.12" fill="rgb(181,181,181)"/><rect x="106.60" y="392.10" width="6.00" height="3.00" rx="1.20" fill="rgb(177,177,177)"/><rect x="106.60" y="404.50" width="6.00" height="3.00" rx="1.20" fill="rgb(177,177,177)"/><rect x="106.60" y="412.30" width="6.00" height="2.60" rx="1.04" fill="rgb(194,194,194)"/><rect x="106.60" y="421.60" width="6.00" height="3.20" rx="1.28" fill="rgb(177,177,177)"/><rect x="106.60" y="434.10" width="6.00" height="2.20" rx="0.88" fill="rgb(233,233,233)"/><rect x="106.60" y="447.50" width="6.00" height="2.20" rx="0.88" fill="rgb(229,229,229)"/><rect x="106.60" y="456.50" width="6.00" height="2.60" rx="1.04" fill="rgb(233,233,233)"/><rect x="106.60" y="463.30" width="6.00" height="2.20" rx="0.88" fill="rgb(233,233,233)"/><rect x="106.60" y="466.70" width="6.00" height="1.80" rx="0.72" fill="rgb(238,238,238)"/><rect x="150.30" y="352.50" width="5.30" height="2.60" rx="1.04" fill="rgb(175,175,175)"/><rect x="150.30" y="356.10" width="5.30" height="2.60" rx="1.04" fill="rgb(169,169,169)"/><rect x="150.30" y="359.80" width="5.30" height="2.60" rx="1.04" fill="rgb(169,169,169)"/><rect x="150.30" y="363.40" width="5.30" height="2.60" rx="1.04" fill="rgb(169,169,169)"/><rect x="150.30" y="367.10" width="5.30" height="2.60" rx="1.04" fill="rgb(169,169,169)"/><rect x="150.30" y="370.70" width="5.30" height="2.60" rx="1.04" fill="rgb(169,169,169)"/><rect x="150.30" y="376.50" width="5.30" height="2.80" rx="1.12" fill="rgb(157,157,157)"/><rect x="150.30" y="384.50" width="5.30" height="2.80" rx="1.12" fill="rgb(157,157,157)"/><rect x="150.30" y="393.90" width="5.30" height="3.00" rx="1.20" fill="rgb(152,152,152)"/><rect x="150.30" y="406.30" width="5.30" height="3.00" rx="1.20" fill="rgb(152,152,152)"/><rect x="150.30" y="414.10" width="5.30" height="2.60" rx="1.04" fill="rgb(175,175,175)"/><rect x="150.30" y="423.40" width="5.30" height="3.20" rx="1.28" fill="rgb(152,152,152)"/><rect x="150.30" y="435.90" width="5.30" height="2.20" rx="0.88" fill="rgb(226,226,226)"/><rect x="150.30" y="449.30" width="5.30" height="2.20" rx="0.88" fill="rgb(221,221,221)"/><rect x="150.30" y="458.30" width="5.30" height="2.60" rx="1.04" fill="rgb(226,226,226)"/><rect x="150.30" y="465.10" width="5.30" height="2.20" rx="0.88" fill="rgb(226,226,226)"/><rect x="150.30" y="468.50" width="5.30" height="1.80" rx="0.72" fill="rgb(232,232,232)"/><rect x="32.95" y="392.20" width="3.60" height="2.40" rx="0.96" fill="rgb(143,143,143)"/><rect x="39.00" y="392.20" width="4.50" height="2.40" rx="0.96" fill="rgb(122,122,122)"/><rect x="32.75" y="402.80" width="4.50" height="2.40" rx="0.96" fill="rgb(173,173,173)"/><rect x="39.10" y="405.40" width="4.80" height="2.40" rx="0.96" fill="rgb(122,122,122)"/><rect x="45.70" y="408.90" width="4.80" height="2.40" rx="0.96" fill="rgb(133,133,133)"/><rect x="52.45" y="417.80" width="4.60" height="2.40" rx="0.96" fill="rgb(143,143,143)"/><rect x="33.40" y="421.30" width="4.40" height="2.40" rx="0.96" fill="rgb(184,184,184)"/><rect x="69.50" y="389.70" width="4.80" height="2.40" rx="0.96" fill="rgb(143,143,143)"/><rect x="82.15" y="390.05" width="4.50" height="2.40" rx="0.96" fill="rgb(133,133,133)"/><rect x="82.15" y="394.05" width="4.50" height="2.40" rx="0.96" fill="rgb(133,133,133)"/><rect x="88.60" y="397.55" width="4.80" height="2.40" rx="0.96" fill="rgb(133,133,133)"/><rect x="100.45" y="392.55" width="4.60" height="2.40" rx="0.96" fill="rgb(133,133,133)"/><rect x="125.55" y="407.55" width="4.40" height="2.40" rx="0.96" fill="rgb(153,153,153)"/><rect x="140.00" y="448.70" width="4.40" height="2.40" rx="0.96" fill="rgb(143,143,143)"/><rect x="143.90" y="394.10" width="4.40" height="2.40" rx="0.96" fill="rgb(143,143,143)"/><rect x="121.10" y="369.60" width="3.00" height="2.40" rx="0.96" fill="rgb(231,231,231)"/><rect x="89.75" y="403.80" width="3.00" height="2.40" rx="0.96" fill="rgb(224,224,224)"/><rect x="159.40" y="350.60" width="4.40" height="2.80" rx="1.12" fill="rgb(147,147,147)"/><rect x="159.40" y="355.70" width="4.40" height="2.80" rx="1.12" fill="rgb(147,147,147)"/><rect x="159.40" y="359.60" width="4.40" height="2.80" rx="1.12" fill="rgb(147,147,147)"/><rect x="159.40" y="363.20" width="4.40" height="2.80" rx="1.12" fill="rgb(147,147,147)"/><rect x="159.40" y="367.20" width="4.40" height="3.00" rx="1.20" fill="rgb(140,140,140)"/><rect x="159.40" y="373.50" width="4.40" height="3.20" rx="1.28" fill="rgb(140,140,140)"/><rect x="159.40" y="380.90" width="4.40" height="3.20" rx="1.28" fill="rgb(134,134,134)"/><rect x="159.40" y="390.80" width="4.40" height="3.40" rx="1.36" fill="rgb(134,134,134)"/><rect x="159.40" y="403.10" width="4.40" height="3.40" rx="1.36" fill="rgb(134,134,134)"/><rect x="159.40" y="411.80" width="4.40" height="3.00" rx="1.20" fill="rgb(153,153,153)"/><rect x="159.40" y="420.20" width="4.40" height="3.80" rx="1.52" fill="rgb(128,128,128)"/><rect x="159.40" y="432.50" width="4.40" height="2.40" rx="0.96" fill="rgb(227,227,227)"/><rect x="159.40" y="446.50" width="4.40" height="2.60" rx="1.04" fill="rgb(230,230,230)"/><rect x="159.40" y="455.20" width="4.40" height="2.20" rx="0.88" fill="rgb(236,236,236)"/><rect x="159.40" y="463.70" width="4.40" height="2.20" rx="0.88" fill="rgb(236,236,236)"/><rect x="201.00" y="349.70" width="5.60" height="2.60" rx="1.04" fill="rgb(166,166,166)"/><rect x="201.00" y="353.30" width="5.60" height="2.60" rx="1.04" fill="rgb(159,159,159)"/><rect x="201.00" y="357.00" width="5.60" height="2.60" rx="1.04" fill="rgb(159,159,159)"/><rect x="201.00" y="360.60" width="5.60" height="2.60" rx="1.04" fill="rgb(159,159,159)"/><rect x="201.00" y="364.30" width="5.60" height="2.60" rx="1.04" fill="rgb(159,159,159)"/><rect x="201.00" y="367.90" width="5.60" height="2.60" rx="1.04" fill="rgb(159,159,159)"/><rect x="201.00" y="373.70" width="5.60" height="2.80" rx="1.12" fill="rgb(147,147,147)"/><rect x="201.00" y="381.70" width="5.60" height="2.80" rx="1.12" fill="rgb(147,147,147)"/><rect x="201.00" y="391.10" width="5.60" height="3.00" rx="1.20" fill="rgb(140,140,140)"/><rect x="201.00" y="403.50" width="5.60" height="3.00" rx="1.20" fill="rgb(140,140,140)"/><rect x="201.00" y="411.30" width="5.60" height="2.60" rx="1.04" fill="rgb(166,166,166)"/><rect x="201.00" y="420.60" width="5.60" height="3.20" rx="1.28" fill="rgb(140,140,140)"/><rect x="201.00" y="433.10" width="5.60" height="2.20" rx="0.88" fill="rgb(223,223,223)"/><rect x="201.00" y="446.50" width="5.60" height="2.20" rx="0.88" fill="rgb(217,217,217)"/><rect x="201.00" y="455.50" width="5.60" height="2.60" rx="1.04" fill="rgb(223,223,223)"/><rect x="201.00" y="462.30" width="5.60" height="2.20" rx="0.88" fill="rgb(223,223,223)"/><rect x="201.00" y="465.70" width="5.60" height="1.80" rx="0.72" fill="rgb(230,230,230)"/><rect x="240.40" y="349.70" width="5.60" height="2.60" rx="1.04" fill="rgb(210,210,210)"/><rect x="240.40" y="353.30" width="5.60" height="2.60" rx="1.04" fill="rgb(207,207,207)"/><rect x="240.40" y="357.00" width="5.60" height="2.60" rx="1.04" fill="rgb(207,207,207)"/><rect x="240.40" y="360.60" width="5.60" height="2.60" rx="1.04" fill="rgb(207,207,207)"/><rect x="240.40" y="364.30" width="5.60" height="2.60" rx="1.04" fill="rgb(207,207,207)"/><rect x="240.40" y="367.90" width="5.60" height="2.60" rx="1.04" fill="rgb(207,207,207)"/><rect x="240.40" y="373.70" width="5.60" height="2.80" rx="1.12" fill="rgb(201,201,201)"/><rect x="240.40" y="381.70" width="5.60" height="2.80" rx="1.12" fill="rgb(201,201,201)"/><rect x="240.40" y="391.10" width="5.60" height="3.00" rx="1.20" fill="rgb(198,198,198)"/><rect x="240.40" y="403.50" width="5.60" height="3.00" rx="1.20" fill="rgb(198,198,198)"/><rect x="240.40" y="411.30" width="5.60" height="2.60" rx="1.04" fill="rgb(210,210,210)"/><rect x="240.40" y="420.60" width="5.60" height="3.20" rx="1.28" fill="rgb(198,198,198)"/><rect x="240.40" y="433.10" width="5.60" height="2.20" rx="0.88" fill="rgb(239,239,239)"/><rect x="240.40" y="446.50" width="5.60" height="2.20" rx="0.88" fill="rgb(236,236,236)"/><rect x="240.40" y="455.50" width="5.60" height="2.60" rx="1.04" fill="rgb(239,239,239)"/><rect x="240.40" y="462.30" width="5.60" height="2.20" rx="0.88" fill="rgb(239,239,239)"/><rect x="240.40" y="465.70" width="5.60" height="1.80" rx="0.72" fill="rgb(242,242,242)"/><rect x="280.80" y="353.10" width="4.40" height="2.60" rx="1.04" fill="rgb(201,201,201)"/><rect x="280.80" y="356.70" width="4.40" height="2.60" rx="1.04" fill="rgb(198,198,198)"/><rect x="280.80" y="360.40" width="4.40" height="2.60" rx="1.04" fill="rgb(198,198,198)"/><rect x="280.80" y="364.00" width="4.40" height="2.60" rx="1.04" fill="rgb(198,198,198)"/><rect x="280.80" y="367.70" width="4.40" height="2.60" rx="1.04" fill="rgb(198,198,198)"/><rect x="280.80" y="371.30" width="4.40" height="2.60" rx="1.04" fill="rgb(198,198,198)"/><rect x="280.80" y="377.10" width="4.40" height="2.80" rx="1.12" fill="rgb(190,190,190)"/><rect x="280.80" y="385.10" width="4.40" height="2.80" rx="1.12" fill="rgb(190,190,190)"/><rect x="280.80" y="394.50" width="4.40" height="3.00" rx="1.20" fill="rgb(186,186,186)"/><rect x="280.80" y="406.90" width="4.40" height="3.00" rx="1.20" fill="rgb(186,186,186)"/><rect x="280.80" y="414.70" width="4.40" height="2.60" rx="1.04" fill="rgb(201,201,201)"/><rect x="280.80" y="424.00" width="4.40" height="3.20" rx="1.28" fill="rgb(186,186,186)"/><rect x="280.80" y="436.50" width="4.40" height="2.20" rx="0.88" fill="rgb(236,236,236)"/><rect x="280.80" y="449.90" width="4.40" height="2.20" rx="0.88" fill="rgb(232,232,232)"/><rect x="280.80" y="458.90" width="4.40" height="2.60" rx="1.04" fill="rgb(236,236,236)"/><rect x="280.80" y="465.70" width="4.40" height="2.20" rx="0.88" fill="rgb(236,236,236)"/><rect x="280.80" y="469.10" width="4.40" height="1.80" rx="0.72" fill="rgb(240,240,240)"/><rect x="166.00" y="380.80" width="4.20" height="2.20" rx="0.88" fill="rgb(140,140,140)"/><rect x="166.00" y="385.15" width="4.20" height="2.20" rx="0.88" fill="rgb(115,115,115)"/><rect x="166.00" y="391.40" width="4.20" height="2.20" rx="0.88" fill="rgb(166,166,166)"/><rect x="166.00" y="396.40" width="4.20" height="2.20" rx="0.88" fill="rgb(64,64,64)"/><rect x="166.00" y="401.40" width="4.20" height="2.20" rx="0.88" fill="rgb(64,64,64)"/><rect x="166.00" y="405.15" width="4.20" height="2.20" rx="0.88" fill="rgb(128,128,128)"/><rect x="166.00" y="408.30" width="4.20" height="2.20" rx="0.88" fill="rgb(128,128,128)"/><rect x="166.00" y="411.40" width="4.20" height="2.20" rx="0.88" fill="rgb(115,115,115)"/><rect x="166.00" y="418.30" width="4.20" height="2.20" rx="0.88" fill="rgb(89,89,89)"/><rect x="166.00" y="421.40" width="4.20" height="2.20" rx="0.88" fill="rgb(128,128,128)"/><rect x="166.00" y="425.15" width="4.20" height="2.20" rx="0.88" fill="rgb(178,178,178)"/><rect x="166.00" y="452.65" width="4.20" height="2.20" rx="0.88" fill="rgb(204,204,204)"/><rect x="172.15" y="379.50" width="4.20" height="2.20" rx="0.88" fill="rgb(153,153,153)"/><rect x="172.15" y="382.00" width="4.20" height="2.20" rx="0.88" fill="rgb(128,128,128)"/><rect x="172.15" y="390.80" width="4.20" height="2.20" rx="0.88" fill="rgb(102,102,102)"/><rect x="172.15" y="395.15" width="4.20" height="2.20" rx="0.88" fill="rgb(38,38,38)"/><rect x="172.15" y="400.80" width="4.20" height="2.20" rx="0.88" fill="rgb(77,77,77)"/><rect x="172.15" y="404.50" width="4.20" height="2.20" rx="0.88" fill="rgb(102,102,102)"/><rect x="172.15" y="417.65" width="4.20" height="2.20" rx="0.88" fill="rgb(128,128,128)"/><rect x="172.15" y="423.30" width="4.20" height="2.20" rx="0.88" fill="rgb(204,204,204)"/><rect x="177.90" y="370.15" width="4.20" height="2.20" rx="0.88" fill="rgb(204,204,204)"/><rect x="177.90" y="388.30" width="4.20" height="2.20" rx="0.88" fill="rgb(89,89,89)"/><rect x="177.90" y="395.15" width="4.20" height="2.20" rx="0.88" fill="rgb(115,115,115)"/><rect x="177.90" y="398.30" width="4.20" height="2.20" rx="0.88" fill="rgb(102,102,102)"/><rect x="177.90" y="402.00" width="4.20" height="2.20" rx="0.88" fill="rgb(77,77,77)"/><rect x="177.90" y="401.40" width="4.20" height="2.20" rx="0.88" fill="rgb(128,128,128)"/><rect x="177.90" y="404.50" width="4.20" height="2.20" rx="0.88" fill="rgb(115,115,115)"/><rect x="184.40" y="383.90" width="4.20" height="2.20" rx="0.88" fill="rgb(115,115,115)"/><rect x="184.40" y="387.00" width="4.20" height="2.20" rx="0.88" fill="rgb(128,128,128)"/><rect x="184.40" y="389.50" width="4.20" height="2.20" rx="0.88" fill="rgb(128,128,128)"/><rect x="184.40" y="393.30" width="4.20" height="2.20" rx="0.88" fill="rgb(128,128,128)"/><rect x="184.40" y="402.65" width="4.20" height="2.20" rx="0.88" fill="rgb(191,191,191)"/><rect x="184.40" y="410.80" width="4.20" height="2.20" rx="0.88" fill="rgb(77,77,77)"/><rect x="184.40" y="417.00" width="4.20" height="2.20" rx="0.88" fill="rgb(140,140,140)"/><rect x="184.40" y="427.00" width="4.20" height="2.20" rx="0.88" fill="rgb(178,178,178)"/><rect x="184.40" y="436.90" width="4.20" height="2.20" rx="0.88" fill="rgb(217,217,217)"/><rect x="189.65" y="373.90" width="4.20" height="2.20" rx="0.88" fill="rgb(191,191,191)"/><rect x="189.65" y="381.40" width="4.20" height="2.20" rx="0.88" fill="rgb(140,140,140)"/><rect x="189.65" y="383.90" width="4.20" height="2.20" rx="0.88" fill="rgb(140,140,140)"/><rect x="189.65" y="387.00" width="4.20" height="2.20" rx="0.88" fill="rgb(140,140,140)"/><rect x="189.65" y="391.40" width="4.20" height="2.20" rx="0.88" fill="rgb(77,77,77)"/><rect x="189.65" y="408.30" width="4.20" height="2.20" rx="0.88" fill="rgb(77,77,77)"/><rect x="189.65" y="420.15" width="4.20" height="2.20" rx="0.88" fill="rgb(89,89,89)"/><rect x="195.50" y="381.15" width="4.20" height="2.20" rx="0.88" fill="rgb(140,140,140)"/><rect x="195.50" y="387.00" width="4.20" height="2.20" rx="0.88" fill="rgb(102,102,102)"/><rect x="195.50" y="390.80" width="4.20" height="2.20" rx="0.88" fill="rgb(128,128,128)"/><rect x="195.50" y="396.40" width="4.20" height="2.20" rx="0.88" fill="rgb(51,51,51)"/><rect x="195.50" y="399.50" width="4.20" height="2.20" rx="0.88" fill="rgb(102,102,102)"/><rect x="195.50" y="400.15" width="4.20" height="2.20" rx="0.88" fill="rgb(128,128,128)"/><rect x="195.50" y="408.90" width="4.20" height="2.20" rx="0.88" fill="rgb(38,38,38)"/><rect x="206.65" y="384.50" width="4.20" height="2.20" rx="0.88" fill="rgb(128,128,128)"/><rect x="206.65" y="391.15" width="4.20" height="2.20" rx="0.88" fill="rgb(102,102,102)"/><rect x="206.65" y="393.65" width="4.20" height="2.20" rx="0.88" fill="rgb(102,102,102)"/><rect x="206.65" y="404.50" width="4.20" height="2.20" rx="0.88" fill="rgb(115,115,115)"/><rect x="206.65" y="407.00" width="4.20" height="2.20" rx="0.88" fill="rgb(115,115,115)"/><rect x="212.65" y="391.40" width="4.20" height="2.20" rx="0.88" fill="rgb(102,102,102)"/><rect x="212.65" y="397.00" width="4.20" height="2.20" rx="0.88" fill="rgb(89,89,89)"/><rect x="212.65" y="401.40" width="4.20" height="2.20" rx="0.88" fill="rgb(64,64,64)"/><rect x="212.65" y="408.90" width="4.20" height="2.20" rx="0.88" fill="rgb(77,77,77)"/><rect x="218.65" y="382.00" width="4.20" height="2.20" rx="0.88" fill="rgb(153,153,153)"/><rect x="218.65" y="390.80" width="4.20" height="2.20" rx="0.88" fill="rgb(115,115,115)"/><rect x="218.65" y="396.40" width="4.20" height="2.20" rx="0.88" fill="rgb(38,38,38)"/><rect x="218.65" y="400.80" width="4.20" height="2.20" rx="0.88" fill="rgb(102,102,102)"/><rect x="218.65" y="406.40" width="4.20" height="2.20" rx="0.88" fill="rgb(64,64,64)"/><rect x="218.65" y="421.15" width="4.20" height="2.20" rx="0.88" fill="rgb(102,102,102)"/><rect x="218.65" y="425.15" width="4.20" height="2.20" rx="0.88" fill="rgb(178,178,178)"/><rect x="224.50" y="378.65" width="4.20" height="2.20" rx="0.88" fill="rgb(153,153,153)"/><rect x="224.50" y="384.90" width="4.20" height="2.20" rx="0.88" fill="rgb(140,140,140)"/><rect x="224.50" y="388.30" width="4.20" height="2.20" rx="0.88" fill="rgb(128,128,128)"/><rect x="224.50" y="391.40" width="4.20" height="2.20" rx="0.88" fill="rgb(128,128,128)"/><rect x="224.50" y="395.15" width="4.20" height="2.20" rx="0.88" fill="rgb(115,115,115)"/><rect x="224.50" y="398.90" width="4.20" height="2.20" rx="0.88" fill="rgb(102,102,102)"/><rect x="224.50" y="405.80" width="4.20" height="2.20" rx="0.88" fill="rgb(102,102,102)"/><rect x="224.50" y="421.80" width="4.20" height="2.20" rx="0.88" fill="rgb(178,178,178)"/><rect x="230.20" y="380.50" width="4.20" height="2.20" rx="0.88" fill="rgb(140,140,140)"/><rect x="230.20" y="386.15" width="4.20" height="2.20" rx="0.88" fill="rgb(115,115,115)"/><rect x="230.20" y="389.90" width="4.20" height="2.20" rx="0.88" fill="rgb(102,102,102)"/><rect x="230.20" y="401.40" width="4.20" height="2.20" rx="0.88" fill="rgb(204,204,204)"/><rect x="230.20" y="406.40" width="4.20" height="2.20" rx="0.88" fill="rgb(128,128,128)"/><rect x="230.20" y="410.80" width="4.20" height="2.20" rx="0.88" fill="rgb(102,102,102)"/><rect x="230.20" y="420.80" width="4.20" height="2.20" rx="0.88" fill="rgb(140,140,140)"/><rect x="230.20" y="430.80" width="4.20" height="2.20" rx="0.88" fill="rgb(115,115,115)"/><rect x="230.20" y="435.15" width="4.20" height="2.20" rx="0.88" fill="rgb(128,128,128)"/><rect x="236.30" y="386.15" width="4.20" height="2.20" rx="0.88" fill="rgb(115,115,115)"/><rect x="236.30" y="392.00" width="4.20" height="2.20" rx="0.88" fill="rgb(89,89,89)"/><rect x="236.30" y="398.30" width="4.20" height="2.20" rx="0.88" fill="rgb(77,77,77)"/><rect x="236.30" y="401.40" width="4.20" height="2.20" rx="0.88" fill="rgb(77,77,77)"/><rect x="236.30" y="404.50" width="4.20" height="2.20" rx="0.88" fill="rgb(102,102,102)"/><rect x="236.30" y="410.80" width="4.20" height="2.20" rx="0.88" fill="rgb(38,38,38)"/><rect x="236.30" y="415.15" width="4.20" height="2.20" rx="0.88" fill="rgb(140,140,140)"/><rect x="236.30" y="425.80" width="4.20" height="2.20" rx="0.88" fill="rgb(178,178,178)"/><rect x="247.70" y="387.65" width="4.20" height="2.20" rx="0.88" fill="rgb(128,128,128)"/><rect x="247.70" y="390.80" width="4.20" height="2.20" rx="0.88" fill="rgb(115,115,115)"/><rect x="247.70" y="394.50" width="4.20" height="2.20" rx="0.88" fill="rgb(102,102,102)"/><rect x="247.70" y="399.50" width="4.20" height="2.20" rx="0.88" fill="rgb(51,51,51)"/><rect x="247.70" y="405.80" width="4.20" height="2.20" rx="0.88" fill="rgb(51,51,51)"/><rect x="247.70" y="408.90" width="4.20" height="2.20" rx="0.88" fill="rgb(128,128,128)"/><rect x="247.70" y="413.30" width="4.20" height="2.20" rx="0.88" fill="rgb(140,140,140)"/><rect x="247.70" y="425.15" width="4.20" height="2.20" rx="0.88" fill="rgb(204,204,204)"/><rect x="253.40" y="387.00" width="4.20" height="2.20" rx="0.88" fill="rgb(140,140,140)"/><rect x="253.40" y="393.90" width="4.20" height="2.20" rx="0.88" fill="rgb(115,115,115)"/><rect x="253.40" y="397.65" width="4.20" height="2.20" rx="0.88" fill="rgb(115,115,115)"/><rect x="253.40" y="408.30" width="4.20" height="2.20" rx="0.88" fill="rgb(102,102,102)"/><rect x="253.40" y="415.15" width="4.20" height="2.20" rx="0.88" fill="rgb(140,140,140)"/><rect x="253.40" y="418.90" width="4.20" height="2.20" rx="0.88" fill="rgb(128,128,128)"/><rect x="253.40" y="422.00" width="4.20" height="2.20" rx="0.88" fill="rgb(128,128,128)"/><rect x="253.40" y="428.30" width="4.20" height="2.20" rx="0.88" fill="rgb(178,178,178)"/><rect x="258.90" y="382.00" width="4.20" height="2.20" rx="0.88" fill="rgb(128,128,128)"/><rect x="258.90" y="386.40" width="4.20" height="2.20" rx="0.88" fill="rgb(128,128,128)"/><rect x="258.90" y="390.15" width="4.20" height="2.20" rx="0.88" fill="rgb(115,115,115)"/><rect x="258.90" y="393.30" width="4.20" height="2.20" rx="0.88" fill="rgb(115,115,115)"/><rect x="258.90" y="396.40" width="4.20" height="2.20" rx="0.88" fill="rgb(102,102,102)"/><rect x="258.90" y="401.40" width="4.20" height="2.20" rx="0.88" fill="rgb(89,89,89)"/><rect x="258.90" y="408.30" width="4.20" height="2.20" rx="0.88" fill="rgb(128,128,128)"/><rect x="258.90" y="418.30" width="4.20" height="2.20" rx="0.88" fill="rgb(102,102,102)"/><rect x="258.90" y="421.40" width="4.20" height="2.20" rx="0.88" fill="rgb(102,102,102)"/><rect x="264.65" y="373.50" width="4.20" height="2.20" rx="0.88" fill="rgb(204,204,204)"/><rect x="264.65" y="392.00" width="4.20" height="2.20" rx="0.88" fill="rgb(115,115,115)"/><rect x="264.65" y="395.15" width="4.20" height="2.20" rx="0.88" fill="rgb(115,115,115)"/><rect x="264.65" y="400.15" width="4.20" height="2.20" rx="0.88" fill="rgb(51,51,51)"/><rect x="264.65" y="406.40" width="4.20" height="2.20" rx="0.88" fill="rgb(128,128,128)"/><rect x="264.65" y="415.15" width="4.20" height="2.20" rx="0.88" fill="rgb(153,153,153)"/><rect x="270.65" y="383.90" width="4.20" height="2.20" rx="0.88" fill="rgb(51,51,51)"/><rect x="270.65" y="393.30" width="4.20" height="2.20" rx="0.88" fill="rgb(115,115,115)"/><rect x="270.65" y="398.90" width="4.20" height="2.20" rx="0.88" fill="rgb(102,102,102)"/><rect x="270.65" y="402.65" width="4.20" height="2.20" rx="0.88" fill="rgb(128,128,128)"/><rect x="270.65" y="410.80" width="4.20" height="2.20" rx="0.88" fill="rgb(102,102,102)"/><rect x="270.65" y="412.90" width="4.20" height="2.20" rx="0.88" fill="rgb(102,102,102)"/><rect x="270.65" y="421.40" width="4.20" height="2.20" rx="0.88" fill="rgb(178,178,178)"/><rect x="270.65" y="442.65" width="4.20" height="2.20" rx="0.88" fill="rgb(204,204,204)"/></g><line x1="295.5" y1="13" x2="295.5" y2="143.4" stroke="#8c8c8c" stroke-width="1" stroke-dasharray="1 1"/><line x1="339.5" y1="23" x2="339.5" y2="143.4" stroke="#8c8c8c" stroke-width="1" stroke-dasharray="1 1"/><line x1="344.5" y1="23" x2="344.5" y2="143.4" stroke="#8c8c8c" stroke-width="1" stroke-dasharray="1 1"/><line x1="387.5" y1="23" x2="387.5" y2="143.4" stroke="#8c8c8c" stroke-width="1" stroke-dasharray="1 1"/><line x1="393.5" y1="23" x2="393.5" y2="143.4" stroke="#8c8c8c" stroke-width="1" stroke-dasharray="1 1"/><line x1="435.5" y1="23" x2="435.5" y2="143.4" stroke="#8c8c8c" stroke-width="1" stroke-dasharray="1 1"/><line x1="440.5" y1="23" x2="440.5" y2="143.4" stroke="#8c8c8c" stroke-width="1" stroke-dasharray="1 1"/><line x1="435.5" y1="12" x2="435.5" y2="143.4" stroke="#8c8c8c" stroke-width="1" stroke-dasharray="1 1"/><line x1="25.5" y1="183" x2="25.5" y2="314.4" stroke="#8c8c8c" stroke-width="1" stroke-dasharray="1 1"/><line x1="67.5" y1="193" x2="67.5" y2="314.4" stroke="#8c8c8c" stroke-width="1" stroke-dasharray="1 1"/><line x1="75.5" y1="193" x2="75.5" y2="314.4" stroke="#8c8c8c" stroke-width="1" stroke-dasharray="1 1"/><line x1="117.5" y1="193" x2="117.5" y2="314.4" stroke="#8c8c8c" stroke-width="1" stroke-dasharray="1 1"/><line x1="124.5" y1="193" x2="124.5" y2="314.4" stroke="#8c8c8c" stroke-width="1" stroke-dasharray="1 1"/><line x1="166.5" y1="183" x2="166.5" y2="314.4" stroke="#8c8c8c" stroke-width="1" stroke-dasharray="1 1"/><line x1="181.5" y1="183" x2="181.5" y2="314.4" stroke="#8c8c8c" stroke-width="1" stroke-dasharray="1 1"/><line x1="217.5" y1="193" x2="217.5" y2="314.4" stroke="#8c8c8c" stroke-width="1" stroke-dasharray="1 1"/><line x1="224.5" y1="193" x2="224.5" y2="314.4" stroke="#8c8c8c" stroke-width="1" stroke-dasharray="1 1"/><line x1="260.5" y1="193" x2="260.5" y2="314.4" stroke="#8c8c8c" stroke-width="1" stroke-dasharray="1 1"/><line x1="267.5" y1="193" x2="267.5" y2="314.4" stroke="#8c8c8c" stroke-width="1" stroke-dasharray="1 1"/><line x1="305.5" y1="183" x2="305.5" y2="314.4" stroke="#8c8c8c" stroke-width="1" stroke-dasharray="1 1"/><line x1="319.5" y1="183" x2="319.5" y2="314.4" stroke="#8c8c8c" stroke-width="1" stroke-dasharray="1 1"/><line x1="314.5" y1="193" x2="314.5" y2="314.4" stroke="#8c8c8c" stroke-width="1" stroke-dasharray="1 1"/><line x1="319.5" y1="193" x2="319.5" y2="314.4" stroke="#8c8c8c" stroke-width="1" stroke-dasharray="1 1"/><line x1="340.5" y1="193" x2="340.5" y2="314.4" stroke="#8c8c8c" stroke-width="1" stroke-dasharray="1 1"/><line x1="345.5" y1="193" x2="345.5" y2="314.4" stroke="#8c8c8c" stroke-width="1" stroke-dasharray="1 1"/><line x1="366.5" y1="193" x2="366.5" y2="314.4" stroke="#8c8c8c" stroke-width="1" stroke-dasharray="1 1"/><line x1="371.5" y1="193" x2="371.5" y2="314.4" stroke="#8c8c8c" stroke-width="1" stroke-dasharray="1 1"/><line x1="393.5" y1="183" x2="393.5" y2="314.4" stroke="#8c8c8c" stroke-width="1" stroke-dasharray="1 1"/><line x1="402.5" y1="183" x2="402.5" y2="314.4" stroke="#8c8c8c" stroke-width="1" stroke-dasharray="1 1"/><line x1="435.5" y1="193" x2="435.5" y2="314.4" stroke="#8c8c8c" stroke-width="1" stroke-dasharray="1 1"/><line x1="440.5" y1="193" x2="440.5" y2="314.4" stroke="#8c8c8c" stroke-width="1" stroke-dasharray="1 1"/><line x1="473.5" y1="193" x2="473.5" y2="314.4" stroke="#8c8c8c" stroke-width="1" stroke-dasharray="1 1"/><line x1="479.5" y1="193" x2="479.5" y2="314.4" stroke="#8c8c8c" stroke-width="1" stroke-dasharray="1 1"/><line x1="513.5" y1="183" x2="513.5" y2="314.4" stroke="#8c8c8c" stroke-width="1" stroke-dasharray="1 1"/><line x1="24.5" y1="338" x2="24.5" y2="468.8" stroke="#8c8c8c" stroke-width="1" stroke-dasharray="1 1"/><line x1="64.5" y1="350" x2="64.5" y2="468.8" stroke="#8c8c8c" stroke-width="1" stroke-dasharray="1 1"/><line x1="70.5" y1="350" x2="70.5" y2="468.8" stroke="#8c8c8c" stroke-width="1" stroke-dasharray="1 1"/><line x1="106.5" y1="350" x2="106.5" y2="468.8" stroke="#8c8c8c" stroke-width="1" stroke-dasharray="1 1"/><line x1="112.5" y1="350" x2="112.5" y2="468.8" stroke="#8c8c8c" stroke-width="1" stroke-dasharray="1 1"/><line x1="150.5" y1="338" x2="150.5" y2="468.8" stroke="#8c8c8c" stroke-width="1" stroke-dasharray="1 1"/><line x1="163.5" y1="338" x2="163.5" y2="468.8" stroke="#8c8c8c" stroke-width="1" stroke-dasharray="1 1"/><line x1="200.5" y1="350" x2="200.5" y2="468.8" stroke="#8c8c8c" stroke-width="1" stroke-dasharray="1 1"/><line x1="206.5" y1="350" x2="206.5" y2="468.8" stroke="#8c8c8c" stroke-width="1" stroke-dasharray="1 1"/><line x1="239.5" y1="350" x2="239.5" y2="468.8" stroke="#8c8c8c" stroke-width="1" stroke-dasharray="1 1"/><line x1="246.5" y1="350" x2="246.5" y2="468.8" stroke="#8c8c8c" stroke-width="1" stroke-dasharray="1 1"/><line x1="280.5" y1="337" x2="280.5" y2="468.8" stroke="#8c8c8c" stroke-width="1" stroke-dasharray="1 1"/><polygon points="321.30,235.60 325.68,227.95 328.72,230.85" fill="#d22a3c"/><polygon points="330.80,244.80 335.33,238.73 337.87,242.07" fill="#d22a3c"/></svg>
<span class="t" id="A" style="left:1.00px;top:0.60px;font-size:12px;font-weight:bold;font-style:normal;color:#222;">A</span>
<span class="t" id="B" style="left:272.50px;top:-0.10px;font-size:12px;font-weight:bold;font-style:normal;color:#222;">B</span>
<span class="t" id="C" style="left:0.60px;top:175.90px;font-size:12px;font-weight:bold;font-style:normal;color:#222;">C</span>
<span class="t" id="D" style="left:170.60px;top:175.90px;font-size:12px;font-weight:bold;font-style:normal;color:#222;">D</span>
<span class="t" id="E" style="left:308.80px;top:175.30px;font-size:12px;font-weight:bold;font-style:normal;color:#222;">E</span>
<span class="t" id="F" style="left:0.80px;top:331.50px;font-size:12px;font-weight:bold;font-style:normal;color:#222;">F</span>
<span class="t" id="pv" style="left:103.80px;top:0.50px;font-size:7.6px;font-weight:normal;font-style:normal;color:#222;"><i>P</i> &lt; .0001</span>
<span class="t" id="tk0" style="left:16.90px;top:135.60px;font-size:7.6px;font-weight:normal;font-style:normal;color:#222;">0</span>
<span class="t" id="tk1" style="left:16.90px;top:122.90px;font-size:7.6px;font-weight:normal;font-style:normal;color:#222;">1</span>
<span class="t" id="tk2" style="left:16.90px;top:110.20px;font-size:7.6px;font-weight:normal;font-style:normal;color:#222;">2</span>
<span class="t" id="tk3" style="left:16.90px;top:97.50px;font-size:7.6px;font-weight:normal;font-style:normal;color:#222;">3</span>
<span class="t" id="tk4" style="left:16.90px;top:84.80px;font-size:7.6px;font-weight:normal;font-style:normal;color:#222;">4</span>
<span class="t" id="tk5" style="left:16.90px;top:72.10px;font-size:7.6px;font-weight:normal;font-style:normal;color:#222;">5</span>
<span class="t" id="tk6" style="left:16.90px;top:59.40px;font-size:7.6px;font-weight:normal;font-style:normal;color:#222;">6</span>
<span class="t" id="tk7" style="left:16.90px;top:46.70px;font-size:7.6px;font-weight:normal;font-style:normal;color:#222;">7</span>
<span class="t" id="tk8" style="left:16.90px;top:34.00px;font-size:7.6px;font-weight:normal;font-style:normal;color:#222;">8</span>
<span class="t" id="tk9" style="left:16.90px;top:21.30px;font-size:7.6px;font-weight:normal;font-style:normal;color:#222;">9</span>
<span class="t" id="tk10" style="left:11.90px;top:8.60px;font-size:7.6px;font-weight:normal;font-style:normal;color:#222;">10</span>
<span class="t" id="ylab" style="left:3.80px;top:102.10px;font-size:8.0px;font-weight:normal;font-style:normal;color:#222;transform:rotate(-90deg);transform-origin:0 0;">XpYp TTAGGG (kb)</span>
<span class="t" id="sA" style="left:43.40px;top:141.80px;font-size:7.8px;font-weight:normal;font-style:normal;color:#222;">Stage A</span>
<span class="t" id="sB" style="left:107.00px;top:141.70px;font-size:7.8px;font-weight:normal;font-style:normal;color:#222;">Stage B</span>
<span class="t" id="sC" style="left:170.50px;top:141.70px;font-size:7.8px;font-weight:normal;font-style:normal;color:#222;">Stage C</span>
<span class="t" id="lg1" style="left:34.60px;top:153.80px;font-size:7.8px;font-weight:normal;font-style:normal;color:#222;">XpYp Fusions</span>
<span class="t" id="lg2" style="left:152.00px;top:153.60px;font-size:7.8px;font-weight:normal;font-style:normal;color:#222;">No XpYp Fusions</span>
<span class="t" id="mwB" style="left:282.80px;top:21.80px;font-size:8.5px;font-weight:normal;font-style:normal;color:#222;transform:rotate(-90deg);transform-origin:0 0;">MW</span>
<span class="t" id="nrm" style="left:351.80px;top:12.30px;font-size:7.3px;font-weight:normal;font-style:normal;color:#222;">Normal #1</span>
<span class="t" id="kbB8" style="left:273.20px;top:37.30px;font-size:7.0px;font-weight:normal;font-style:normal;color:#222;">8 kb-</span>
<span class="t" id="kbB4" style="left:273.20px;top:66.00px;font-size:7.0px;font-weight:normal;font-style:normal;color:#222;">4 kb-</span>
<span class="t" id="kbB2" style="left:273.20px;top:94.60px;font-size:7.0px;font-weight:normal;font-style:normal;color:#222;">2 kb-</span>
<span class="t" id="zB" style="left:364.80px;top:145.80px;font-size:7.3px;font-weight:normal;font-style:normal;color:#222;">0</span>
<span class="t" id="mwC" style="left:11.20px;top:191.30px;font-size:8.5px;font-weight:normal;font-style:normal;color:#222;transform:rotate(-90deg);transform-origin:0 0;">MW</span>
<span class="t" id="sA10" style="left:77.40px;top:181.60px;font-size:7.3px;font-weight:normal;font-style:normal;color:#222;">Stage A #10</span>
<span class="t" id="kbC8" style="left:1.30px;top:204.70px;font-size:7.0px;font-weight:normal;font-style:normal;color:#222;">8 kb-</span>
<span class="t" id="kbC4" style="left:1.30px;top:234.30px;font-size:7.0px;font-weight:normal;font-style:normal;color:#222;">4 kb-</span>
<span class="t" id="kbC2" style="left:1.30px;top:263.90px;font-size:7.0px;font-weight:normal;font-style:normal;color:#222;">2 kb-</span>
<span class="t" id="zC" style="left:95.80px;top:315.40px;font-size:7.3px;font-weight:normal;font-style:normal;color:#222;">0</span>
<span class="t" id="sA21" style="left:221.70px;top:181.50px;font-size:7.3px;font-weight:normal;font-style:normal;color:#222;">Stage A #21</span>
<span class="t" id="sC38" style="left:334.80px;top:181.80px;font-size:7.3px;font-weight:normal;font-style:normal;color:#222;">Stage C #38</span>
<span class="t" id="sC36" style="left:436.90px;top:182.00px;font-size:7.3px;font-weight:normal;font-style:normal;color:#222;">Stage C #36</span>
<span class="t" id="fD" style="left:233.30px;top:315.90px;font-size:7.3px;font-weight:normal;font-style:normal;color:#222;">5x10<sup>-6</sup></span>
<span class="t" id="fE1" style="left:346.30px;top:315.90px;font-size:7.3px;font-weight:normal;font-style:normal;color:#222;">4x10<sup>-5</sup></span>
<span class="t" id="fE2" style="left:447.30px;top:316.00px;font-size:7.3px;font-weight:normal;font-style:normal;color:#222;">7x10<sup>-6</sup></span>
<span class="t" id="mwF" style="left:11.30px;top:347.00px;font-size:8.5px;font-weight:normal;font-style:normal;color:#222;transform:rotate(-90deg);transform-origin:0 0;">MW</span>
<span class="t" id="pd32" style="left:54.00px;top:337.00px;font-size:7.5px;font-weight:normal;font-style:normal;color:#222;">MRC5 E6E7 PD32</span>
<span class="t" id="pd46" style="left:192.80px;top:336.90px;font-size:7.5px;font-weight:normal;font-style:normal;color:#222;">MRC5 E6E7 PD46</span>
<span class="t" id="kbF8" style="left:1.30px;top:361.00px;font-size:7.0px;font-weight:normal;font-style:normal;color:#222;">8 kb-</span>
<span class="t" id="kbF4" style="left:1.30px;top:390.10px;font-size:7.0px;font-weight:normal;font-style:normal;color:#222;">4 kb-</span>
<span class="t" id="kbF2" style="left:1.30px;top:419.10px;font-size:7.0px;font-weight:normal;font-style:normal;color:#222;">2 kb-</span>
<span class="t" id="fF1" style="left:77.10px;top:471.00px;font-size:7.3px;font-weight:normal;font-style:normal;color:#222;">8x10<sup>-5</sup></span>
<span class="t" id="fF2" style="left:213.30px;top:471.00px;font-size:7.3px;font-weight:normal;font-style:normal;color:#222;">8x10<sup>-4</sup></span>
</body></html>
